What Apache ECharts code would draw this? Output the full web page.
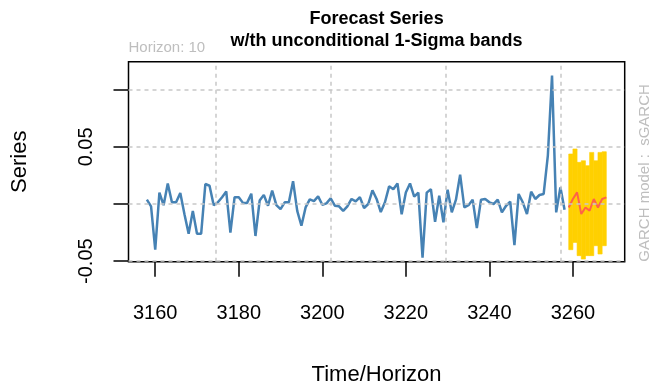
<!DOCTYPE html>
<html><head><meta charset="utf-8">
<script src="https://cdn.jsdelivr.net/npm/echarts@6/dist/echarts.min.js"></script>
<style>html,body{margin:0;padding:0;background:#fff}#c{width:653px;height:386px}</style>
</head><body><div id="c"></div>
<script>
// ---- data ----
const histStart = 3158;
const histValues = [
  0.0038, -0.002, -0.040, 0.010, -0.001, 0.018, 0.0015, 0.0015, 0.0096, -0.009,
  -0.026, -0.006, -0.026, -0.026, 0.0175, 0.016, -0.001, 0.0015, 0.006, 0.011,
  -0.025, 0.006, 0.006, 0.001, 0.001, 0.009, -0.028, 0.003, 0.008, -0.0015,
  0.0117, -0.001, -0.0044, 0.0015, 0.0015, 0.020, -0.006, -0.019, -0.003, 0.004,
  0.0026, 0.0067, -0.0006, 0.0006, 0.005, -0.0015, -0.002, -0.006, -0.002, 0.0044,
  0.0023, 0.006, -0.0035, 0.0, 0.012, 0.0044, -0.007, 0.0015, 0.0155, 0.013,
  0.018, -0.009, 0.010, 0.018, 0.0064, 0.010, -0.047, 0.010, 0.013, -0.0155,
  0.0073, -0.016, 0.0125, -0.0073, 0.0038, 0.0257, -0.003, -0.001, 0.0038, -0.021,
  0.0038, 0.0044, 0.0015, 0.0, 0.0038, -0.0073, -0.0015, 0.002, -0.036, 0.0088,
  0.0015, -0.0088, 0.0108, 0.0044, 0.0079, 0.0088, 0.0423, 0.1124, -0.0073, 0.0146,
  -0.005
];
const fcStart = 3259;
const fcValues = [-0.003, 0.0044, 0.0102, -0.0088, -0.003, -0.0058, 0.0044, -0.003, 0.0044, 0.0058];
const bandUpper = [0.0438, 0.0482, 0.0365, 0.0379, 0.0336, 0.0452, 0.0379, 0.0452, 0.0458];
const bandLower = [-0.040, -0.0336, -0.0452, -0.0482, -0.0452, -0.0452, -0.0365, -0.0438, -0.0365];
const xTicks = [3160, 3180, 3200, 3220, 3240, 3260];
const yTicks = [-0.05, 0, 0.05, 0.1];
const yLabels = [-0.05, 0.05];
const gridX = [3174.5, 3202, 3229.5, 3257];
const titleLines = ['Forecast Series', 'w/th unconditional 1-Sigma bands'];
const horizonText = 'Horizon: 10';
const modelText = 'GARCH model :  sGARCH';

// ---- chart ----
const FONT = '"Liberation Sans", Arial, Helvetica, sans-serif';
const G = {left: 128.5, right: 28.3, top: 61.7, bottom: 124.3};
const chart = echarts.init(document.getElementById('c'), null, {renderer: 'canvas'});
const histData = histValues.map((v, i) => [histStart + i, v]);
const fcData = fcValues.map((v, i) => [fcStart + i, v]);
const bandData = bandUpper.map((u, i) => [fcStart + i, fcStart + i + 1, u, bandLower[i]]);

chart.setOption({
  animation: false,
  textStyle: {fontFamily: FONT},
  grid: {left: G.left, right: G.right, top: G.top, bottom: G.bottom, show: true,
         containLabel: false, outerBoundsMode: 'none',
         borderColor: '#000', borderWidth: 1.5, backgroundColor: 'transparent'},
  xAxis: {
    type: 'value', min: 3153.6, max: 3272.4,
    axisLine: {show: false, onZero: false},
    axisTick: {show: true, customValues: xTicks, length: 15, lineStyle: {color: '#000', width: 1.5}},
    axisLabel: {customValues: xTicks, fontSize: 20, color: '#000', margin: 42, fontFamily: FONT,
                formatter: v => String(v)},
    splitLine: {show: false},
    name: 'Time/Horizon', nameLocation: 'middle', nameGap: 102,
    nameTextStyle: {fontSize: 22, color: '#000', fontFamily: FONT}
  },
  yAxis: {
    type: 'value', min: -0.0505, max: 0.1246,
    axisLine: {show: false, onZero: false},
    axisTick: {show: true, customValues: yTicks, length: 15, lineStyle: {color: '#000', width: 1.5}},
    axisLabel: {customValues: yLabels, fontSize: 20, color: '#000', margin: 32, rotate: 90, fontFamily: FONT,
                formatter: v => String(v)},
    splitLine: {show: false},
    name: 'Series', nameLocation: 'middle', nameGap: 98, nameRotate: 90,
    nameTextStyle: {fontSize: 22, color: '#000', fontFamily: FONT}
  },
  series: [
    {
      type: 'line', data: [], z: 1, silent: true,
      markLine: {
        silent: true, symbol: ['none', 'none'], label: {show: false},
        lineStyle: {color: '#C8C8C8', type: [4, 4], width: 1.5},
        emphasis: {disabled: true},
        data: gridX.map(v => ({xAxis: v})).concat(yTicks.map(v => ({yAxis: v})))
      }
    },
    {
      type: 'custom', z: 2, silent: true, clip: true,
      data: bandData,
      encode: {x: [0, 1], y: [2, 3]},
      renderItem: function (params, api) {
        const p1 = api.coord([api.value(0), api.value(2)]);
        const p2 = api.coord([api.value(1), api.value(3)]);
        return {type: 'rect',
          shape: {x: p1[0], y: p1[1], width: p2[0] - p1[0], height: p2[1] - p1[1]},
          style: {fill: '#FFD000', stroke: '#FFD000', lineWidth: 0.6}};
      }
    },
    {
      type: 'line', data: histData, z: 3, symbol: 'none', silent: true,
      lineStyle: {color: '#4682B4', width: 2.5}
    },
    {
      type: 'line', data: fcData, z: 4, symbol: 'none', silent: true,
      lineStyle: {color: '#FF6347', width: 2}
    }
  ],
  graphic: [
    {type: 'text', x: 376.6, y: 19, style: {text: titleLines[0], font: 'bold 18px ' + FONT, fill: '#000', align: 'center', verticalAlign: 'middle'}},
    {type: 'text', x: 376.6, y: 41, style: {text: titleLines[1], font: 'bold 18px ' + FONT, fill: '#000', align: 'center', verticalAlign: 'middle'}},
    {type: 'text', x: 128.5, y: 48, style: {text: horizonText, font: '15px ' + FONT, fill: '#BEBEBE', align: 'left', verticalAlign: 'middle'}},
    {type: 'text', x: 645, y: 261.7, rotation: Math.PI / 2, style: {text: modelText, font: '15px ' + FONT, fill: '#BEBEBE', align: 'left', verticalAlign: 'middle'}}
  ]
});
</script>
</body></html>
